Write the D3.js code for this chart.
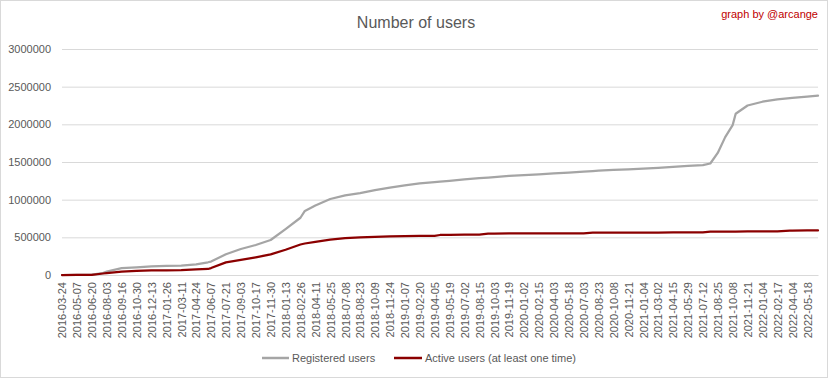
<!DOCTYPE html>
<html>
<head>
<meta charset="utf-8">
<script src="https://cdn.jsdelivr.net/npm/d3@7/dist/d3.min.js"></script>
<style>
  html, body { margin: 0; padding: 0; background: #fff; }
  svg { display: block; font-family: "Liberation Sans", Arial, sans-serif; }
</style>
</head>
<body>
<svg id="chart" width="832" height="379"></svg>
<script>
// ---- data ----
const tickLabels = [
  "2016-03-24","2016-05-07","2016-06-20","2016-08-03","2016-09-16","2016-10-30","2016-12-13",
  "2017-01-26","2017-03-11","2017-04-24","2017-06-07","2017-07-21","2017-09-03","2017-10-17",
  "2017-11-30","2018-01-13","2018-02-26","2018-04-11","2018-05-25","2018-07-08","2018-08-23",
  "2018-10-09","2018-11-24","2019-01-07","2019-02-20","2019-04-05","2019-05-19","2019-07-02",
  "2019-08-15","2019-10-03","2019-11-19","2020-01-02","2020-02-15","2020-04-03","2020-05-18",
  "2020-07-03","2020-08-23","2020-10-08","2020-11-21","2021-01-04","2021-03-02","2021-04-15",
  "2021-05-29","2021-07-12","2021-08-25","2021-10-08","2021-11-21","2022-01-04","2022-02-17",
  "2022-04-04","2022-05-18"
];
const labelEvery = 44;      // one label every 44 categories
const categoryCount = 2233; // number of categories on the axis

// category index of each sampled point
const sampleCat = [0,44,88,121,132,176,220,264,308,352,396,431,440,484,528,572,616,660,704,717,
  748,792,836,880,924,968,1012,1056,1100,1116,1144,1188,1232,1258,1276,1320,1364,1408,1452,1496,
  1540,1567,1584,1628,1672,1716,1760,1804,1848,1892,1914,1936,1958,1980,1989,2024,2068,2112,2149,
  2156,2200,2232];

const registered = [0,2000,6000,25000,45000,90000,100000,113000,120000,126000,140000,169000,178000,
  275000,345000,398000,465000,610000,760000,850000,922000,1009000,1058000,1088000,1128000,1161000,
  1190000,1215000,1234000,1240000,1250000,1268000,1285000,1294000,1300000,1315000,1325000,1337000,
  1348000,1360000,1372000,1380000,1385000,1395000,1403000,1412000,1422000,1435000,1447000,1458000,
  1480000,1620000,1830000,1990000,2140000,2250000,2300000,2330000,2347000,2350000,2367000,2380000];

const active = [0,1000,3000,20000,25000,46000,55000,60000,63000,66000,74000,80000,92000,168000,
  200000,235000,273000,335000,405000,418000,440000,470000,490000,500000,506000,512000,516000,518000,
  520000,531000,533000,535000,537000,549000,550000,551000,551500,552000,552500,553000,554000,562000,
  562000,562500,563000,563500,564000,564500,565000,565500,575000,576000,576500,577000,577000,577500,
  578000,579000,590000,590000,591000,592000];

const yTicks = [0,500000,1000000,1500000,2000000,2500000,3000000];
const seriesNames = ["Registered users", "Active users (at least one time)"];
const seriesColors = ["#A5A5A5", "#8B0000"];

// ---- drawing ----
const svg = d3.select("#chart");
const W = 832, H = 379;
const plot = { left: 62, right: 818, top: 49, bottom: 275 };

svg.append("rect").attr("x", 0.5).attr("y", 0.5).attr("width", 827).attr("height", 377)
  .attr("fill", "#fff").attr("stroke", "#D9D9D9");

const x = d3.scaleLinear().domain([0, categoryCount - 1]).range([plot.left, plot.right]);
const y = d3.scaleLinear().domain([0, 3000000]).range([plot.bottom, plot.top]);

// gridlines + y labels
const yAxis = d3.axisLeft(y).tickValues(yTicks).tickSize(-(plot.right - plot.left))
  .tickPadding(11).tickFormat(d3.format("d"));
const gy = svg.append("g").attr("transform", `translate(${plot.left},0)`).call(yAxis);
gy.select(".domain").remove();
gy.selectAll(".tick line").attr("stroke", "#D9D9D9").attr("stroke-width", 1);
gy.selectAll(".tick text").attr("fill", "#595959").attr("font-size", 11)
  .attr("font-family", "Liberation Sans, Arial, sans-serif");

// x axis labels
const xAxis = d3.axisBottom(x).tickValues(tickLabels.map((d, i) => i * labelEvery))
  .tickFormat((d, i) => tickLabels[i]).tickSize(0).tickPadding(0);
const gx = svg.append("g").attr("transform", `translate(0,${plot.bottom})`).call(xAxis);
gx.select(".domain").attr("stroke", "#D9D9D9");
gx.selectAll(".tick text")
  .attr("fill", "#595959").attr("font-size", 11)
  .attr("font-family", "Liberation Sans, Arial, sans-serif")
  .attr("transform", "rotate(-90)")
  .attr("text-anchor", "end")
  .attr("x", -7).attr("y", 0).attr("dy", "0.35em");

// lines
const series = [registered, active];
const line = d3.line().x((d, i) => x(sampleCat[i])).y(d => y(d));
series.forEach((vals, s) => {
  svg.append("path").datum(vals).attr("d", line)
    .attr("fill", "none").attr("stroke", seriesColors[s]).attr("stroke-width", 2.25)
    .attr("stroke-linejoin", "round").attr("stroke-linecap", "round");
});

// title
svg.append("text").attr("x", 416).attr("y", 28).attr("text-anchor", "middle")
  .attr("fill", "#595959").attr("font-size", 16)
  .attr("font-family", "Liberation Sans, Arial, sans-serif").text("Number of users");

svg.append("text").attr("x", 818).attr("y", 18).attr("text-anchor", "end")
  .attr("fill", "#C00000").attr("font-size", 11)
  .attr("font-family", "Liberation Sans, Arial, sans-serif").text("graph by @arcange");

// legend
const legendItems = [
  { x1: 262, x2: 289, tx: 292 },
  { x1: 394, x2: 422, tx: 425 }
];
legendItems.forEach((it, i) => {
  svg.append("line").attr("x1", it.x1).attr("x2", it.x2).attr("y1", 358).attr("y2", 358)
    .attr("stroke", seriesColors[i]).attr("stroke-width", 2.5);
  svg.append("text").attr("x", it.tx).attr("y", 358).attr("dy", "0.35em")
    .attr("fill", "#595959").attr("font-size", 11)
    .attr("font-family", "Liberation Sans, Arial, sans-serif").text(seriesNames[i]);
});
</script>
</body>
</html>
